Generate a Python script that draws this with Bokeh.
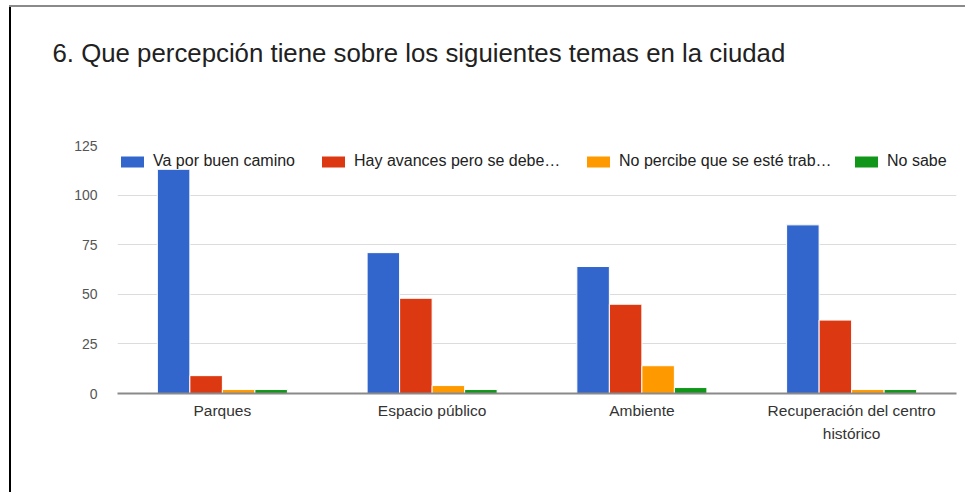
from bokeh.plotting import figure
from bokeh.models import (ColumnDataSource, FactorRange, Range1d, Legend, LegendItem,
                          SingleIntervalTicker, CategoricalAxis, CustomJSTickFormatter)
from bokeh.transform import dodge
from bokeh.embed import file_html
from bokeh.resources import INLINE

title_text = "6. Que percepción tiene sobre los siguientes temas en la ciudad"
categories = ["Parques", "Espacio público", "Ambiente", "Recuperación del centro histórico"]
label_line1 = ["Parques", "Espacio público", "Ambiente", "Recuperación del centro"]
label_line2 = ["", "", "", "histórico"]
series_names = ["Va por buen camino", "Hay avances pero se debe…",
                "No percibe que se esté trab…", "No sabe"]
va_por_buen_camino = [113, 71, 64, 85]
hay_avances = [9, 48, 45, 37]
no_percibe = [2, 4, 14, 2]
no_sabe = [2, 2, 3, 2]
colors = ["#3366cc", "#dc3912", "#ff9900", "#109618"]
y_ticks_interval = 25

series_values = [va_por_buen_camino, hay_avances, no_percibe, no_sabe]
data = {"cat": categories}
keys = ["s0", "s1", "s2", "s3"]
for k, v in zip(keys, series_values):
    data[k] = v
source = ColumnDataSource(data)

FONT = "Liberation Sans"

bg = ("linear-gradient(#8a8a8a,#8a8a8a) 9px 5px / 960px 2px no-repeat, "
      "linear-gradient(#000,#000) 9px 5px / 2px 491px no-repeat, white")

p = figure(x_range=FactorRange(*categories), y_range=Range1d(0, 125),
           width=965, height=492, output_backend="svg", toolbar_location=None,
           min_border_left=117, min_border_right=9, min_border_top=145, min_border_bottom=99,
           styles={"background": bg})
p.outline_line_color = None
p.background_fill_color = "white"
p.border_fill_color = None
p.border_fill_alpha = 0

# title: two blank trailing lines lift the text towards the top of the border area
p.title.text = title_text + "\n \n "
p.title.text_font = FONT
p.title.text_font_size = "25.8px"
p.title.text_font_style = "normal"
p.title.text_color = "#212121"
p.title.align = "left"
p.title.vertical_align = "bottom"
p.title.offset = -65
p.title.standoff = 46

bw = 0.155
offsets = [-1.5 * bw, -0.5 * bw, 0.5 * bw, 1.5 * bw]
renderers = []
for k, off, c in zip(keys, offsets, colors):
    r = p.vbar(x=dodge("cat", off, range=p.x_range), top=k, width=bw, source=source,
               fill_color=c, line_color="white", line_width=1)
    renderers.append(r)

# axes
p.yaxis.ticker = SingleIntervalTicker(interval=y_ticks_interval)
p.yaxis.axis_line_color = None
p.yaxis.major_tick_line_color = None
p.yaxis.minor_tick_line_color = None
p.yaxis.major_tick_out = 0
p.yaxis.major_tick_in = 0
p.yaxis.major_label_standoff = 16
p.yaxis.major_label_text_font = FONT
p.yaxis.major_label_text_font_size = "14px"
p.yaxis.major_label_text_color = "#555555"

js = "const i = cats.indexOf(tick); return i >= 0 ? labs[i] : tick;"

ax1 = p.xaxis[0]
ax1.axis_line_color = "#8a8a8a"
ax1.axis_line_width = 2
ax1.major_tick_line_color = None
ax1.major_tick_out = 0
ax1.major_tick_in = 0
ax1.major_label_standoff = 8
ax1.major_label_text_font = FONT
ax1.major_label_text_font_size = "15.5px"
ax1.major_label_text_color = "#333333"
ax1.formatter = CustomJSTickFormatter(args=dict(cats=categories, labs=label_line1), code=js)

ax2 = CategoricalAxis(axis_line_color=None, major_tick_line_color=None,
                      major_tick_out=0, major_tick_in=0, major_label_standoff=3,
                      major_label_text_font=FONT, major_label_text_font_size="15.5px",
                      major_label_text_color="#333333",
                      formatter=CustomJSTickFormatter(args=dict(cats=categories, labs=label_line2), code=js))
p.add_layout(ax2, "below")

p.xgrid.grid_line_color = None
p.ygrid.grid_line_color = "#dcdcdc"
p.ygrid.grid_line_width = 1

# legends, one per item, placed individually
legend_x = [0, 201, 466, 734]
for name, r, lx in zip(series_names, renderers, legend_x):
    lg = Legend(items=[LegendItem(label=name, renderers=[r])], location=(lx, 223),
                orientation="horizontal", padding=0, margin=0, spacing=0,
                glyph_width=30, glyph_height=15, label_height=15, label_standoff=6,
                label_text_font=FONT, label_text_font_size="16px", label_text_color="#222222",
                border_line_alpha=0, background_fill_alpha=0)
    p.add_layout(lg, "center")

open("out.html", "w").write(file_html(p, INLINE))
